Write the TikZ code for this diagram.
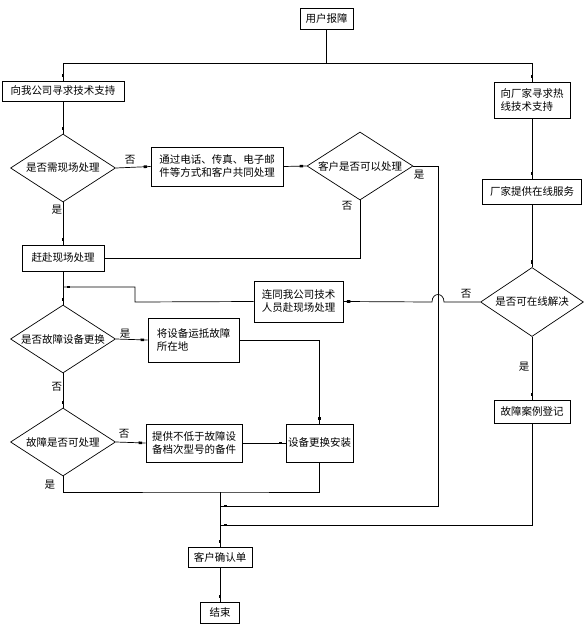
\documentclass[tikz,border=0pt]{standalone}
\usepackage{fontspec}
\newfontfamily\cjk{Noto Sans CJK SC}
\usetikzlibrary{shapes.geometric,decorations.markings}
\begin{document}
\begin{tikzpicture}[x=1pt,y=-1pt,line width=0.7pt,
  every node/.style={font=\cjk\fontsize{10.5}{13}\selectfont,inner sep=0pt},
  box/.style={draw,rectangle,align=left},
  dec/.style={draw,diamond,aspect=1.55,minimum width=105pt,minimum height=68pt},
  lbl/.style={font=\cjk\fontsize{10.5}{13}\selectfont},
  mk/.style={postaction={decorate,decoration={markings,
     mark=at position -5pt with {\fill (-2,-1.3) rectangle (1.5,1.3);}}}}]
\useasboundingbox (0,0) rectangle (587,625);

% nodes
\node[box,minimum width=53pt,minimum height=21pt] (start) at (326.5,18.5) {用户报障};
\node[box,minimum width=122pt,minimum height=20pt] (ask) at (63,91) {向我公司寻求技术支持};
\node[box,minimum width=76pt,minimum height=36pt] (vendor) at (532,100) {向厂家寻求热\\线技术支持};
\node[dec] (d1) at (63,168) {是否需现场处理};
\node[box,minimum width=132pt,minimum height=39pt] (remote) at (217,166.5) {通过电话、传真、电子邮\\件等方式和客户共同处理};
\node[dec,minimum width=106pt] (d2) at (360,166) {客户是否可以处理};
\node[box,minimum width=99pt,minimum height=25pt] (online) at (532,191.5) {厂家提供在线服务};
\node[box,minimum width=82pt,minimum height=26pt] (onsite) at (63,258) {赶赴现场处理};
\node[dec,minimum width=103pt,minimum height=69pt] (d5) at (532,302) {是否可在线解决};
\node[box,minimum width=89pt,minimum height=41pt] (together) at (298.5,301.5) {连同我公司技术\\人员赴现场处理};
\node[dec] (d3) at (63,339) {是否故障设备更换};
\node[box,minimum width=91pt,minimum height=44pt] (ship) at (193.5,340) {将设备运抵故障\\所在地};
\node[box,minimum width=76pt,minimum height=23pt] (register) at (532,411.5) {故障案例登记};
\node[dec] (d4) at (63,442) {故障是否可处理};
\node[box,minimum width=96pt,minimum height=38pt] (spare) at (194,443) {提供不低于故障设\\备档次型号的备件};
\node[box,minimum width=67pt,minimum height=38pt] (install) at (319.5,443) {设备更换安装};
\node[box,minimum width=64pt,minimum height=20pt] (confirm) at (220,557) {客户确认单};
\node[box,minimum width=39pt,minimum height=21pt] (end) at (220,612.5) {结束};

% coordinates
\coordinate (split) at (326.5,63);
\coordinate (j) at (220,492);
\coordinate (j2) at (220,506);
\coordinate (j3) at (220,525);
\coordinate (r2) at (438,166);
\coordinate (r2b) at (438,506);
\coordinate (t1) at (135,302);
\coordinate (t2) at (135,287);
\coordinate (t3) at (63,287);
\coordinate (reg2) at (532,525);
\coordinate (hopR) at (444,302);
\coordinate (hopL) at (432,302);

% connectors
\draw (start.south) -- (split);
\draw[mk] (split) -| (ask.north);
\draw[mk] (split) -| (vendor.north);
\draw[mk] (ask.south) -- (d1.north);
\draw[mk] (d1.east) -- (remote.west);
\node[lbl] at (130,160) {否};
\draw[mk] (d1.south) -- (onsite.north);
\node[lbl] at (57,210) {是};
\draw[mk] (remote.east) -- (d2.west);
\draw (d2.south) |- (onsite.east);
\node[lbl] at (347,206) {否};
\draw[mk] (d2.east) -- (r2) -- (r2b) -- (j2);
\node[lbl] at (419,175) {是};
\draw[mk] (vendor.south) -- (online.north);
\draw[mk] (online.south) -- (d5.north);
\draw[mk] (d5.west) -- (hopR) .. controls (444,292) and (432,292) .. (hopL) -- (together.east);
\node[lbl] at (466,294) {否};
\draw[mk] (d5.south) -- (register.north);
\node[lbl] at (524,367) {是};
\draw[mk] (register.south) -- (reg2) -- (j3);
\draw[mk] (together.west) -- (t1) -- (t2) -- (t3);
\draw[mk] (onsite.south) -- (d3.north);
\draw[mk] (d3.east) -- (ship.west);
\node[lbl] at (125,334) {是};
\draw[mk] (ship.east) -| (install.north);
\draw[mk] (d3.south) -- (d4.north);
\node[lbl] at (57,387) {否};
\draw[mk] (d4.east) -- (spare.west);
\node[lbl] at (124,434) {否};
\draw[mk] (spare.east) -- (install.west);
\draw (d4.south) |- (j) -| (install.south);
\node[lbl] at (50,485) {是};
\draw[mk] (j) -- (confirm.north);
\draw[mk] (confirm.south) -- (end.north);
\end{tikzpicture}
\end{document}
